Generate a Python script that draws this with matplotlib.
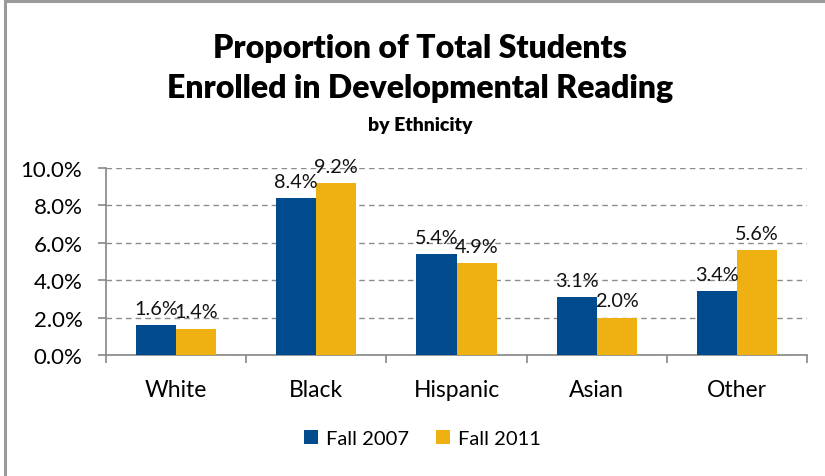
import matplotlib
matplotlib.use("Agg")
import matplotlib.pyplot as plt
from matplotlib.lines import Line2D
from matplotlib.patches import Patch
from matplotlib.ticker import FuncFormatter, FixedLocator
import numpy as np

plt.rcParams['font.family'] = ['Lato', 'DejaVu Sans']

categories = ["White", "Black", "Hispanic", "Asian", "Other"]
fall_2007 = [1.6, 8.4, 5.4, 3.1, 3.4]
fall_2011 = [1.4, 9.2, 4.9, 2.0, 5.6]
series_names = ["Fall 2007", "Fall 2011"]
y_ticks = [0, 2, 4, 6, 8, 10]

blue = "#004B8D"
gold = "#EEB111"
axis_gray = "#868686"

fig = plt.figure(figsize=(8.25, 4.77), dpi=100)
ax = fig.add_axes([0.1285, 0.2537, 0.8497, 0.392])

x = np.arange(len(categories))
w = 0.2857
b1 = ax.bar(x - w / 2, fall_2007, width=w, color=blue, zorder=3)
b2 = ax.bar(x + w / 2, fall_2011, width=w, color=gold, zorder=3)

for bars, vals in ((b1, fall_2007), (b2, fall_2011)):
    for rect, v in zip(bars, vals):
        ax.annotate(f"{v:.1f}%", (rect.get_x() + rect.get_width() / 2, v),
                    xytext=(0, 6), textcoords="offset points",
                    ha="center", va="bottom", fontsize=14.3, color="#111111")

ax.set_xlim(-0.5, len(categories) - 0.5)
ax.set_ylim(0, 10)
ax.yaxis.set_major_locator(FixedLocator(y_ticks))
ax.yaxis.set_major_formatter(FuncFormatter(lambda v, _: f"{v:.1f}%"))
ax.grid(axis="y", color="#8c8c8c", linestyle=(0, (4, 3)), linewidth=1.0, zorder=0)

# category labels centred, tick marks on the boundaries between groups
ax.set_xticks(x)
ax.set_xticklabels(categories, fontsize=16.5)
ax.tick_params(axis="x", which="major", length=0, pad=17)
ax.set_xticks(np.arange(-0.5, len(categories)), minor=True)
ax.tick_params(axis="x", which="minor", length=6, color=axis_gray, width=1.2)
ax.tick_params(axis="y", length=6, color=axis_gray, width=1.2, labelsize=16, pad=11)

for s in ("top", "right"):
    ax.spines[s].set_visible(False)
for s in ("left", "bottom"):
    ax.spines[s].set_color(axis_gray)
    ax.spines[s].set_linewidth(1.2)

fig.text(0.509, 0.899, "Proportion of Total Students", ha="center", va="center",
         fontsize=23, fontweight="heavy")
fig.text(0.509, 0.815, "Enrolled in Developmental Reading", ha="center", va="center",
         fontsize=23, fontweight="heavy")
fig.text(0.509, 0.736, "by Ethnicity", ha="center", va="center",
         fontsize=14, fontweight="heavy")

handles = [Patch(facecolor=blue), Patch(facecolor=gold)]
fig.legend(handles, series_names, loc="center", bbox_to_anchor=(0.512, 0.078),
           ncol=2, frameon=False, fontsize=14.5, handlelength=0.7, handleheight=0.7,
           handletextpad=0.4, columnspacing=1.3)

# chart-area border along the top and left edges
fig.add_artist(Line2D([0.0055, 1.0], [0.995, 0.995], color="#9a9a9a", linewidth=2.2,
                      transform=fig.transFigure))
fig.add_artist(Line2D([0.0055, 0.0055], [0.0, 0.995], color="#9a9a9a", linewidth=2.2,
                      transform=fig.transFigure))

fig.savefig("out.png", dpi=100)
